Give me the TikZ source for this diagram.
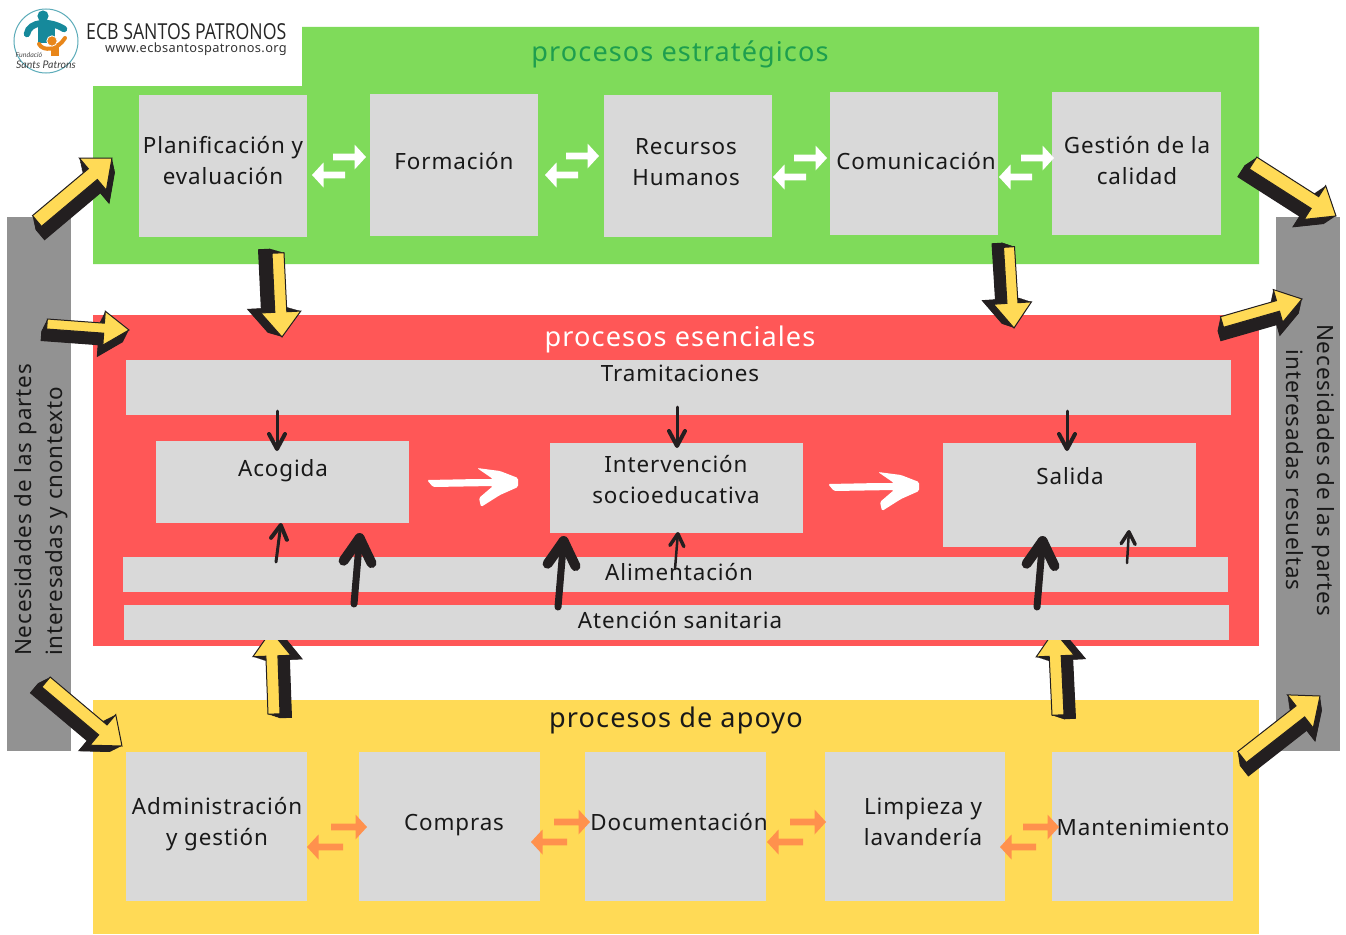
\documentclass[tikz,border=0pt]{standalone}
\usepackage{fontspec}
\usetikzlibrary{calc}
\setmainfont{Noto Sans}
\newfontfamily\labfont[LetterSpace=4]{Noto Sans}
\newfontfamily\headfont[FakeStretch=0.805]{Open Sans}
\newfontfamily\urlfont[LetterSpace=3]{Noto Sans}
\newfontfamily\logofont{Lato}
\definecolor{grn}{HTML}{7FDB5A}
\definecolor{rd}{HTML}{FF5757}
\definecolor{yl}{HTML}{FFDA56}
\definecolor{bxg}{HTML}{D9D9D9}
\definecolor{sideg}{HTML}{929292}
\definecolor{org}{HTML}{FF914D}
\definecolor{ink}{HTML}{231F20}
\definecolor{teal1}{HTML}{16899B}
\definecolor{org2}{HTML}{E8861A}
\definecolor{ttl}{HTML}{1E9E4E}
\tikzset{
  lab/.style={inner sep=0pt,align=center,text=black!90,font=\labfont\fontsize{22.4}{31}\selectfont},
  ttlab/.style={inner sep=0pt,align=center,font=\labfont\fontsize{27.1}{32}\selectfont},
  sidelab/.style={inner sep=0pt,text=black!90,font=\labfont\fontsize{22.4}{31}\selectfont},
  bx/.style={fill=bxg,inner sep=0pt,draw=none},
}
% box from corners, with name
\newcommand\bx[5]{\node[bx,minimum width={(#4-#2)*1pt},minimum height={(#5-#3)*1pt}] (#1) at ({(#2+#4)/2},{(#3+#5)/2}) {};}
\newcommand\getframe[2]{\path let \p1=(#1),\p2=(#2) in \pgfextra{%
  \pgfmathsetmacro\myang{atan2(\y2-\y1,\x2-\x1)}\pgfmathsetmacro\mylen{veclen(\x2-\x1,\y2-\y1)}%
  \global\let\gang\myang\global\let\glen\mylen};}
% tail tip sx sy headhalf shafthalf
\newcommand\blockarrow[6]{%
  \getframe{#1}{#2}%
  \def\polyp{(0,#6) -- (\glen-25,#6) -- (\glen-25,#5) -- (\glen,0) -- (\glen-25,-#5) -- (\glen-25,-#6) -- (0,-#6) -- cycle}%
  \foreach \t in {0,0.05,...,1.01}{\fill[ink,line join=round,shift={(#1)},shift={(\t*#3,\t*#4)},rotate=\gang] \polyp;}%
  \filldraw[fill=yl,draw=ink,line width=1pt,line join=miter,shift={(#1)},rotate=\gang] \polyp;}
% tail tip colour
\newcommand\slimarrow[3]{%
  \getframe{#1}{#2}%
  \fill[#3,shift={(#1)},rotate=\gang] (0,3.3) -- (\glen-11.5,3.3) -- (\glen-11.5,12.5) -- (\glen,0) -- (\glen-11.5,-12.5) -- (\glen-11.5,-3.3) -- (0,-3.3) -- cycle;}
% tail tip shaftw wingw back side
\newcommand\handarrow[6]{%
  \getframe{#1}{#2}%
  \draw[ink,line width=#3,line cap=round,shift={(#1)},rotate=\gang] (0,0) -- (\glen-#4,0);
  \draw[ink,line width=#4,line cap=round,line join=round,shift={(#1)},rotate=\gang]
    (\glen-#5,#6) .. controls (\glen-#5*0.55,#6*0.45) .. (\glen-#4*0.5,0) .. controls (\glen-#5*0.55,-#6*0.45) .. (\glen-#5,-#6);}
\newcommand\whitearrow[2]{%
  \fill[white,rounded corners=1.5pt,shift={(#1)}] (0,-3) -- (51,-4) -- (66,-4) -- (50,-15) -- (73,-12) -- (91,-5) -- (91,4) -- (73,12) -- (54,24) -- (52,15) -- (66,3) -- (6,4) -- cycle;}
\begin{document}
\begin{tikzpicture}[x=1pt,y=-1pt]
\useasboundingbox (0,0) rectangle (1346,934);
\fill[white] (0,0) rectangle (1346,934);
% side bands
\fill[sideg] (7,217) rectangle (71,751);
\fill[sideg] (1276,217) rectangle (1340,751);
% panels
\fill[grn] (93,86) -- (302,86) -- (302,27) -- (1259,27) -- (1259,264) -- (93,264) -- cycle;
\fill[rd] (93,315) rectangle (1259,646);
\fill[yl] (93,700) rectangle (1259,934);
% named ends of the block arrows
\coordinate (a1t) at (37,221); \coordinate (a1h) at (112,158);
\coordinate (a2t) at (278,253); \coordinate (a2h) at (282,337);
\coordinate (a3t) at (47,324); \coordinate (a3h) at (129,330);
\coordinate (a4t) at (46,682); \coordinate (a4h) at (122,746);
\coordinate (a5t) at (274,714); \coordinate (a5h) at (271,631);
\coordinate (a6t) at (1253,163); \coordinate (a6h) at (1336,216);
\coordinate (a7t) at (1222,322); \coordinate (a7h) at (1302,299);
\coordinate (a8t) at (1009,247); \coordinate (a8h) at (1014,328);
\coordinate (a9t) at (1058,715); \coordinate (a9h) at (1054,631);
\coordinate (a10t) at (1242,757); \coordinate (a10h) at (1320,696);
% arrows passing behind the bars
\blockarrow{a5t}{a5h}{12}{4}{19}{6}
\blockarrow{a9t}{a9h}{12}{4}{19}{6}
% boxes
\bx{P}{139}{95}{307}{237}
\bx{F}{370}{94}{538}{236}
\bx{R}{604}{95}{772}{237}
\bx{C}{830}{92}{998}{235}
\bx{G}{1052}{92}{1221}{235}
\bx{Tr}{126}{360}{1231}{415}
\bx{Ac}{156}{441}{409}{523}
\bx{In}{550}{443}{803}{533}
\bx{Sa}{943}{443}{1196}{547}
\bx{Al}{123}{557}{1228}{592}
\bx{At}{124}{605}{1229}{640}
\bx{Ad}{126}{752}{307}{901}
\bx{Co}{359}{752}{540}{901}
\bx{Do}{585}{752}{766}{901}
\bx{Li}{825}{752}{1005}{901}
\bx{Ma}{1052}{752}{1233}{901}
% texts
\node[ttlab,text=ttl] (t1) at (680,54) {procesos estratégicos};
\node[ttlab,text=white] (t2) at (680,339) {procesos esenciales};
\node[ttlab,text=black!90] (t3) at (676,720) {procesos de apoyo};
\node[lab] (Pt) at (223,161) {Planificación y\\evaluación};
\node[lab] (Ft) at (454,161) {Formación};
\node[lab] (Rt) at (686,162) {Recursos\\Humanos};
\node[lab] (Ct) at (916,161) {Comunicación};
\node[lab] (Gt) at (1137,161) {Gestión de la\\calidad};
\node[lab] (Trt) at (680,373) {Tramitaciones};
\node[lab] (Act) at (283,471) {Acogida};
\node[lab] (Int) at (676,480) {Intervención\\socioeducativa};
\node[lab] (Sat) at (1070,476) {Salida};
\node[lab] (Alt) at (679,572) {Alimentación};
\node[lab] (Att) at (680,620) {Atención sanitaria};
\node[lab] (Adt) at (217,824) {Administración\\y gestión};
\node[lab] (Cot) at (454,825) {Compras};
\node[lab] (Dot) at (679,822) {Documentación};
\node[lab] (Lit) at (923,822) {Limpieza y\\lavandería};
\node[lab] (Mat) at (1143,827) {Mantenimiento};
\node[sidelab,rotate=90,align=left] (Sl) at (41,510) {Necesidades de las partes\\interesadas y cnontexto};
\node[sidelab,rotate=-90,align=center] (Sr) at (1310,470) {Necesidades de las partes\\interesadas resueltas};
% white double arrows
\foreach \q/\rx/\ry/\lx/\ly in {a/366/157/312/175,b/599/156/545/175,c/827/158/773/177,d/1054/158/999/177}{
  \coordinate (w\q rt) at ({\rx-33},\ry); \coordinate (w\q rh) at (\rx,\ry);
  \coordinate (w\q lt) at ({\lx+33},\ly); \coordinate (w\q lh) at (\lx,\ly);
  \slimarrow{w\q rt}{w\q rh}{white}
  \slimarrow{w\q lt}{w\q lh}{white}
}
% orange double arrows
\foreach \q/\rx/\ry/\lx/\ly in {a/367/827/307/847,b/590/822/531/842,c/826/822/767/842,d/1059/827/1000/847}{
  \coordinate (o\q rt) at ({\rx-36},\ry); \coordinate (o\q rh) at (\rx,\ry);
  \coordinate (o\q lt) at ({\lx+36},\ly); \coordinate (o\q lh) at (\lx,\ly);
  \slimarrow{o\q rt}{o\q rh}{org}
  \slimarrow{o\q lt}{o\q lh}{org}
}
% block arrows on top
\blockarrow{a1t}{a1h}{3}{14}{21}{7}
\blockarrow{a2t}{a2h}{-14}{-4}{20}{6}
\blockarrow{a3t}{a3h}{-6}{12}{17}{5}
\blockarrow{a4t}{a4h}{-12}{6}{20}{6.5}
\blockarrow{a6t}{a6h}{-12}{8}{20}{7}
\blockarrow{a7t}{a7h}{-3}{14}{17}{5.5}
\blockarrow{a8t}{a8h}{-12}{-4}{19}{5.5}
\blockarrow{a10t}{a10h}{2}{14}{21}{7}
% hand-drawn black arrows
\coordinate (h1t) at (277,411); \coordinate (h1h) at (277,451);
\coordinate (h2t) at (276,562); \coordinate (h2h) at (281,523);
\coordinate (h3t) at (354,604); \coordinate (h3h) at (360,533);
\coordinate (h4t) at (677,407); \coordinate (h4h) at (677,448);
\coordinate (h5t) at (675,569); \coordinate (h5h) at (678,532);
\coordinate (h6t) at (558,607); \coordinate (h6h) at (564,536);
\coordinate (h7t) at (1067,411); \coordinate (h7h) at (1067,451);
\coordinate (h8t) at (1127,563); \coordinate (h8h) at (1129,530);
\coordinate (h9t) at (1037,607); \coordinate (h9h) at (1043,536);
\handarrow{h1t}{h1h}{3pt}{4pt}{17}{8}
\handarrow{h2t}{h2h}{3pt}{4pt}{16}{8}
\handarrow{h3t}{h3h}{7pt}{10pt}{29}{14}
\handarrow{h4t}{h4h}{3pt}{4pt}{17}{8}
\handarrow{h5t}{h5h}{2.5pt}{3.5pt}{14}{7}
\handarrow{h6t}{h6h}{7pt}{10pt}{29}{14}
\handarrow{h7t}{h7h}{3pt}{4pt}{17}{8}
\handarrow{h8t}{h8h}{2.5pt}{3.5pt}{14}{7}
\handarrow{h9t}{h9h}{7pt}{10pt}{29}{14}
% white hand arrows
\coordinate (wh1) at (427,483);
\coordinate (wh2) at (828,487);
\whitearrow{wh1}{}
\whitearrow{wh2}{}
% header
\node[inner sep=0pt,anchor=west,font=\headfont\fontsize{22}{24}\selectfont,text=black!85] (h1) at (86,31.5) {ECB SANTOS PATRONOS};
\node[inner sep=0pt,anchor=east,font=\urlfont\fontsize{12.8}{14}\selectfont,text=black!80] (h2) at (287,49) {www.ecbsantospatronos.org};
% logo
\draw[teal1!70!white,line width=1pt] (46,41) circle (32);
\draw[teal1,line width=6.5pt,line cap=round] (27,34) .. controls (29,21) and (50,20) .. (64,29);
\fill[teal1] (38,25) rectangle (55,43);
\fill[teal1] (43,16) circle (5.6);
\draw[white,line width=1pt,fill=org2] (50,43) rectangle (59,57);
\draw[org2,line width=4pt,line cap=round] (39,44) .. controls (43,52) and (58,50) .. (65,38);
\draw[white,line width=.8pt,fill=org2] (52,41) circle (5.2);
\node[inner sep=0pt,font=\logofont\itshape\fontsize{7}{8}\selectfont,text=black!70] (l1) at (29,55) {Fundació};
\node[inner sep=0pt,font=\logofont\itshape\fontsize{10.5}{12}\selectfont,text=black!75] (l2) at (46,64.5) {Sants Patrons};
\end{tikzpicture}
\end{document}
